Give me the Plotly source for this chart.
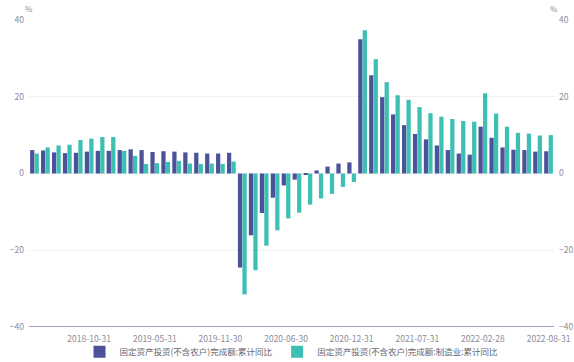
import plotly.graph_objects as go

# Monthly periods (Jan is merged into Feb in the statistics)
months = (
    ["2018-05-31", "2018-06-30", "2018-07-31", "2018-08-31", "2018-09-30", "2018-10-31",
     "2018-11-30", "2018-12-31"]
    + ["2019-02-28", "2019-03-31", "2019-04-30", "2019-05-31", "2019-06-30", "2019-07-31",
       "2019-08-31", "2019-09-30", "2019-10-31", "2019-11-30", "2019-12-31"]
    + ["2020-02-29", "2020-03-31", "2020-04-30", "2020-05-31", "2020-06-30", "2020-07-31",
       "2020-08-31", "2020-09-30", "2020-10-31", "2020-11-30", "2020-12-31"]
    + ["2021-02-28", "2021-03-31", "2021-04-30", "2021-05-31", "2021-06-30", "2021-07-31",
       "2021-08-31", "2021-09-30", "2021-10-31", "2021-11-30", "2021-12-31"]
    + ["2022-02-28", "2022-03-31", "2022-04-30", "2022-05-31", "2022-06-30", "2022-07-31",
       "2022-08-31"]
)

fai_total = [
    6.1, 6.0, 5.5, 5.3, 5.4, 5.7, 5.9, 5.9,
    6.1, 6.3, 6.1, 5.6, 5.8, 5.7, 5.5, 5.4, 5.2, 5.2, 5.4,
    -24.5, -16.1, -10.3, -6.3, -3.1, -1.6, -0.3, 0.8, 1.8, 2.6, 2.9,
    35.0, 25.6, 19.9, 15.4, 12.6, 10.3, 8.9, 7.3, 6.1, 5.2, 4.9,
    12.2, 9.3, 6.8, 6.2, 6.1, 5.7, 5.8,
]

fai_manufacturing = [
    5.2, 6.8, 7.3, 7.5, 8.7, 9.1, 9.5, 9.5,
    5.9, 4.6, 2.5, 2.7, 3.0, 3.3, 2.6, 2.5, 2.6, 2.5, 3.1,
    -31.5, -25.2, -18.8, -14.8, -11.7, -10.2, -8.1, -6.5, -5.3, -3.5, -2.2,
    37.3, 29.8, 23.8, 20.4, 19.2, 17.3, 15.7, 14.8, 14.2, 13.7, 13.5,
    20.9, 15.6, 12.2, 10.6, 10.4, 9.9, 10.0,
]

x_ticks = ["2018-10-31", "2019-05-31", "2019-11-30", "2020-06-30",
           "2020-12-31", "2021-07-31", "2022-02-28", "2022-08-31"]
y_ticks = [-40, -20, 0, 20, 40]

name_total = "固定资产投资(不含农户)完成额:累计同比"
name_mfg = "固定资产投资(不含农户)完成额:制造业:累计同比"

BLUE = "#4b5299"
TEAL = "#3dbfb3"
LABEL = "#8c8c99"
FONT = "Noto Sans CJK SC, Liberation Sans, sans-serif"

fig = go.Figure()
fig.add_trace(go.Bar(x=months, y=fai_total, name=name_total,
                     marker=dict(color=BLUE, line=dict(width=0))))
fig.add_trace(go.Bar(x=months, y=fai_manufacturing, name=name_mfg,
                     marker=dict(color=TEAL, line=dict(width=0))))
# invisible helper so the right-hand axis is drawn
fig.add_trace(go.Scatter(x=[months[0]], y=[0], yaxis="y2", mode="markers",
                         marker=dict(opacity=0), showlegend=False, hoverinfo="skip"))

fig.update_layout(
    width=574, height=362,
    margin=dict(l=29, r=20, t=20, b=35, autoexpand=False),
    paper_bgcolor="white", plot_bgcolor="white",
    barmode="group", bargap=0.18, bargroupgap=0.05,
    font=dict(family=FONT, size=9, color=LABEL),
    xaxis=dict(
        type="category", categoryorder="array", categoryarray=months,
        range=[-0.5, len(months) - 0.5], automargin=False,
        tickmode="array", tickvals=x_ticks, ticktext=x_ticks,
        showgrid=False, showline=False, ticks="", ticklabelstandoff=5,
        tickfont=dict(size=8.5, color=LABEL),
    ),
    yaxis=dict(
        range=[-40, 40], tickvals=y_ticks, showgrid=True, gridcolor="#f0f0f6",
        gridwidth=1, zeroline=False, showline=False, ticks="", automargin=False,
        tickfont=dict(size=8.5, color=LABEL), ticklabelstandoff=4,
    ),
    yaxis2=dict(
        range=[-40, 40], tickvals=y_ticks, overlaying="y", side="right",
        showgrid=False, zeroline=False, showline=False, ticks="", automargin=False,
        tickfont=dict(size=8.5, color=LABEL), ticklabelstandoff=4,
    ),
    legend=dict(orientation="h", x=0.5, xanchor="center",
                yref="container", y=0.028, yanchor="middle",
                bgcolor="rgba(0,0,0,0)",
                font=dict(size=8.5, color="#666670"), traceorder="normal"),
    shapes=[dict(type="line", xref="paper", yref="y", x0=0, x1=1, y0=-40, y1=-40,
                 layer="above", line=dict(color="#7d80ad", width=1.5))],
    annotations=[
        dict(text="%", xref="paper", yref="paper", x=0, y=1, xanchor="center",
             yanchor="bottom", yshift=4, showarrow=False, font=dict(size=8, color=LABEL)),
        dict(text="%", xref="paper", yref="paper", x=1, y=1, xanchor="center",
             yanchor="bottom", yshift=4, showarrow=False, font=dict(size=8, color=LABEL)),
    ],
)

fig.write_html("out.html")
